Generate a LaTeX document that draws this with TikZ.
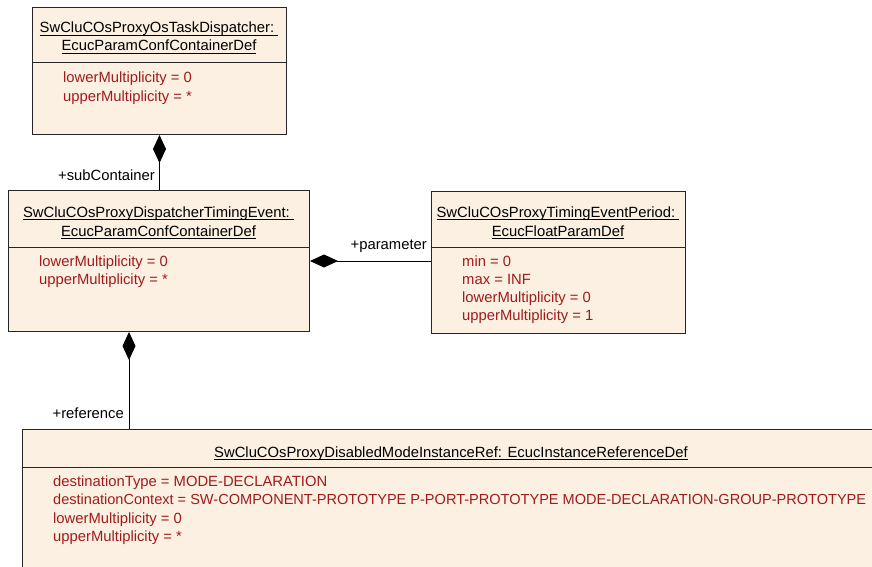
\documentclass[tikz,border=0pt]{standalone}
\usepackage{fontspec}
\setmainfont{Liberation Sans}
\usetikzlibrary{arrows.meta,calc}

\definecolor{umlfill}{RGB}{251,240,225}
\definecolor{attrred}{RGB}{160,28,28}

% underlined title line
\newcommand\titleline[1]{\setbox0\hbox{#1}\rlap{\rule[-3pt]{\wd0}{0.9pt}}\box0}

\tikzset{
  umlbox/.style={draw=black!85, fill=umlfill, line width=1pt, inner sep=0pt},
  umlsep/.style={draw=black!85, line width=1pt},
  umltitle/.style={font=\fontsize{14.8}{18}\selectfont, inner sep=0pt, anchor=base},
  umlattr/.style={font=\fontsize{14.8}{18}\selectfont, text=attrred, inner sep=0pt, anchor=base west},
  rolelabel/.style={font=\fontsize{14.8}{18}\selectfont, inner sep=0pt, anchor=base east},
  composite/.style={{Diamond[length=28pt,width=13pt]}-, line width=0.9pt},
}

\begin{document}
\begin{tikzpicture}[x=1pt, y=-1pt]
\useasboundingbox (0,0) rectangle (872,567);

% Klassen
\node[umlbox, minimum width=254pt, minimum height=127pt, anchor=north west] (osdisp) at (32,7) {};
\node[umlbox, minimum width=301pt, minimum height=141pt, anchor=north west] (timing) at (8,190) {};
\node[umlbox, minimum width=254pt, minimum height=142pt, anchor=north west] (period) at (431,191) {};
\node[umlbox, minimum width=858pt, minimum height=160pt, anchor=north west] (refdef) at (22,429) {};

% Trennlinien
\draw[umlsep] ($(osdisp.north west)+(0,56)$) -- ($(osdisp.north east)+(0,56)$);
\draw[umlsep] ($(timing.north west)+(0,57)$) -- ($(timing.north east)+(0,57)$);
\draw[umlsep] ($(period.north west)+(0,56)$) -- ($(period.north east)+(0,56)$);
\draw[umlsep] ($(refdef.north west)+(0,38)$) -- ($(refdef.north east)+(0,38)$);

% SwCluCOsProxyOsTaskDispatcher
\node[umltitle] (osdisp-t1) at (159,33) {\titleline{SwCluCOsProxyOsTaskDispatcher:\ }};
\node[umltitle] (osdisp-t2) at (159,51) {\titleline{EcucParamConfContainerDef}};
\node[umlattr] (osdisp-a1) at (63,83) {lowerMultiplicity = 0};
\node[umlattr] (osdisp-a2) at (63,102) {upperMultiplicity = *};

% SwCluCOsProxyDispatcherTimingEvent
\node[umltitle] (timing-t1) at (158.5,217) {\titleline{SwCluCOsProxyDispatcherTimingEvent:\ }};
\node[umltitle] (timing-t2) at (158.5,236) {\titleline{EcucParamConfContainerDef}};
\node[umlattr] (timing-a1) at (39,266) {lowerMultiplicity = 0};
\node[umlattr] (timing-a2) at (39,284) {upperMultiplicity = *};

% SwCluCOsProxyTimingEventPeriod
\node[umltitle] (period-t1) at (558,217) {\titleline{SwCluCOsProxyTimingEventPeriod:\ }};
\node[umltitle] (period-t2) at (558,236) {\titleline{EcucFloatParamDef}};
\node[umlattr] (period-a1) at (462,266) {min = 0};
\node[umlattr] (period-a2) at (462,284) {max = INF};
\node[umlattr] (period-a3) at (462,302) {lowerMultiplicity = 0};
\node[umlattr] (period-a4) at (462,320) {upperMultiplicity = 1};

% SwCluCOsProxyDisabledModeInstanceRef
\node[umltitle] (refdef-t1) at (451,457) {\titleline{SwCluCOsProxyDisabledModeInstanceRef: EcucInstanceReferenceDef}};
\node[umlattr] (refdef-a1) at (53,486) {destinationType = MODE-DECLARATION};
\node[umlattr, font=\fontsize{14.55}{18}\selectfont] (refdef-a2) at (53,504) {destinationContext = SW-COMPONENT-PROTOTYPE P-PORT-PROTOTYPE MODE-DECLARATION-GROUP-PROTOTYPE};
\node[umlattr] (refdef-a3) at (53,523) {lowerMultiplicity = 0};
\node[umlattr] (refdef-a4) at (53,541) {upperMultiplicity = *};

% Kompositionen
\draw[composite] (osdisp.south) -- (osdisp.south |- timing.north);
\node[rolelabel] (sub-role) at (155,180) {+subContainer};

\draw[composite] ($(timing.north east)+(0,71)$) -- ($(period.north west)+(0,70)$);
\node[rolelabel] (par-role) at (427,249) {+parameter};

\draw[composite] ($(timing.south west)+(121,0)$) -- ($(refdef.north west)+(107,0)$);
\node[rolelabel] (ref-role) at (124,418) {+reference};
\end{tikzpicture}
\end{document}
